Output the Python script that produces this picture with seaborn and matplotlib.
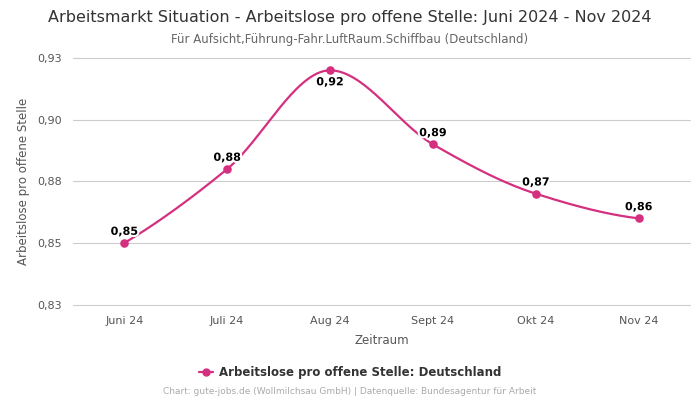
import numpy as np
import pandas as pd
import seaborn as sns
import matplotlib.pyplot as plt
import matplotlib.patheffects as pe
from matplotlib.ticker import FixedLocator, FuncFormatter

# Data
monate = ["Juni 24", "Juli 24", "Aug 24", "Sept 24", "Okt 24", "Nov 24"]
werte = [0.85, 0.88, 0.92, 0.89, 0.87, 0.86]
label_unten = [False, False, True, False, False, False]
y_ticks = [0.825, 0.85, 0.875, 0.90, 0.925]

farbe = "#d4307f"

df = pd.DataFrame({"monat": monate, "wert": werte})
df["pos"] = np.arange(len(df))


def pchip(x, y, xs):
    # monotone cubic interpolation, only used to draw the smooth line
    x = np.asarray(x, float)
    y = np.asarray(y, float)
    h = np.diff(x)
    d = np.diff(y) / h
    n = len(x)
    m = np.zeros(n)
    for i in range(1, n - 1):
        if d[i - 1] * d[i] > 0:
            w1 = 2 * h[i] + h[i - 1]
            w2 = h[i] + 2 * h[i - 1]
            m[i] = (w1 + w2) / (w1 / d[i - 1] + w2 / d[i])
    m[0] = ((2 * h[0] + h[1]) * d[0] - h[0] * d[1]) / (h[0] + h[1])
    if np.sign(m[0]) != np.sign(d[0]):
        m[0] = 0
    m[-1] = ((2 * h[-1] + h[-2]) * d[-1] - h[-1] * d[-2]) / (h[-1] + h[-2])
    if np.sign(m[-1]) != np.sign(d[-1]):
        m[-1] = 0
    idx = np.clip(np.searchsorted(x, xs) - 1, 0, n - 2)
    t = (xs - x[idx]) / h[idx]
    h00 = 2 * t**3 - 3 * t**2 + 1
    h10 = t**3 - 2 * t**2 + t
    h01 = -2 * t**3 + 3 * t**2
    h11 = t**3 - t**2
    return h00 * y[idx] + h10 * h[idx] * m[idx] + h01 * y[idx + 1] + h11 * h[idx] * m[idx + 1]


sns.set_theme(style="white")
plt.rcParams["font.family"] = ["DejaVu Sans"]

fig = plt.figure(figsize=(7, 4), dpi=100)
ax = fig.add_axes([0.104, 0.2375, 0.882, 0.6175])

xs = np.linspace(df["pos"].min(), df["pos"].max(), 300)
glatt = pd.DataFrame({"pos": xs, "wert": pchip(df["pos"], df["wert"], xs)})
sns.lineplot(data=glatt, x="pos", y="wert", color=farbe, linewidth=1.6, ax=ax)
sns.scatterplot(data=df, x="pos", y="wert", color=farbe, s=38, edgecolor=farbe,
                linewidth=0, zorder=3, ax=ax)

for p, v, unten in zip(df["pos"], df["wert"], label_unten):
    off = -5 if unten else 4.5
    ax.annotate(f"{v:.2f}".replace(".", ","), (p, v), xytext=(0, off),
                textcoords="offset points", ha="center",
                va="top" if unten else "bottom", fontsize=8, fontweight="bold",
                color="black",
                path_effects=[pe.withStroke(linewidth=3, foreground="white")])

ax.set_xlim(-0.5, len(monate) - 0.5)
ax.set_ylim(0.8249, 0.925)
ax.set_xticks(df["pos"])
ax.set_xticklabels(monate)
ax.yaxis.set_major_locator(FixedLocator(y_ticks))
ax.yaxis.set_major_formatter(FuncFormatter(lambda v, _: f"{v + 1e-9:.2f}".replace(".", ",")))
ax.tick_params(axis="both", labelsize=8, colors="#555555", length=0, pad=8)
ax.grid(axis="y", color="#cccccc", linewidth=0.8)
for gl in ax.get_ygridlines():
    gl.set_clip_on(False)
ax.set_axisbelow(True)
for s in ax.spines.values():
    s.set_visible(False)

ax.set_xlabel("Zeitraum", fontsize=8.5, color="#555555", labelpad=6)
ax.set_ylabel("Arbeitslose pro offene Stelle", fontsize=8.5, color="#555555", labelpad=5)

fig.text(0.5, 0.957, "Arbeitsmarkt Situation - Arbeitslose pro offene Stelle: Juni 2024 - Nov 2024",
         ha="center", va="center", fontsize=11.5, color="#333333")
fig.text(0.5, 0.902, "Für Aufsicht,Führung-Fahr.LuftRaum.Schiffbau (Deutschland)",
         ha="center", va="center", fontsize=8.5, color="#666666")

leg_handle = plt.Line2D([], [], color=farbe, marker="o", markersize=5, linewidth=1.6)
fig.legend([leg_handle], ["Arbeitslose pro offene Stelle: Deutschland"], loc="center",
           bbox_to_anchor=(0.5, 0.068), frameon=False, handlelength=1.2, handletextpad=0.5,
           prop={"size": 8.5, "weight": "bold"}, labelcolor="#333333")

fig.text(0.5, 0.02, "Chart: gute-jobs.de (Wollmilchsau GmbH) | Datenquelle: Bundesagentur für Arbeit",
         ha="center", va="center", fontsize=6.5, color="#aaaaaa")

fig.savefig("out.png", dpi=100)
